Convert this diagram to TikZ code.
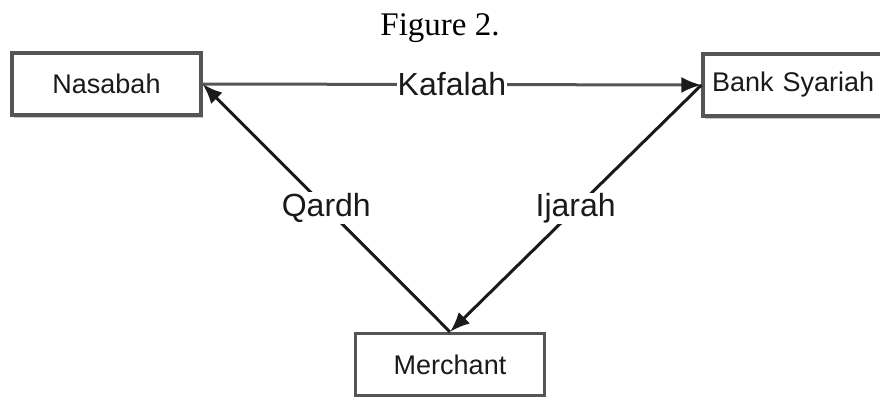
\documentclass[tikz,border=0pt]{standalone}
\usepackage{fontspec}
\newfontfamily\diagsans{Liberation Sans}
\newfontfamily\diagserif{Liberation Serif}
\usetikzlibrary{arrows.meta,shadows}
\definecolor{boxline}{HTML}{555555}
\definecolor{inkdark}{HTML}{1A1A1A}
\begin{document}
\begin{tikzpicture}[x=1pt,y=-1pt,
  party/.style={draw=boxline, line width=3.2pt, fill=white,
    minimum width=189pt, minimum height=62pt, inner sep=0pt,
    text=inkdark, font=\diagsans\fontsize{27}{30}\selectfont,
    drop shadow={shadow xshift=1.5pt, shadow yshift=-2.5pt, fill=gray!60, opacity=0.7}},
  flow/.style={line width=3pt, draw=inkdark,
    -{Latex[length=20pt,width=16pt,color=inkdark]}},
  tag/.style={fill=white, inner sep=1pt, text=inkdark,
    font=\diagsans\fontsize{32}{36}\selectfont}]
  \useasboundingbox (0,0) rectangle (880,396);
  \fill[white] (0,0) rectangle (880,396);

  % title
  \node (title) at (440,28) {\diagserif\fontsize{33}{36}\selectfont Figure 2.};

  % parties
  \node[party] (nas) at (106.5,84) {Nasabah};
  \node[party, minimum width=190pt, text width=172pt, align=left] (bank) at (798,85) {Bank Syariah};
  \node[party] (mer) at (450,364.5) {Merchant};

  % contracts
  \draw[flow, draw=boxline] (nas.east) -- node[tag] (kaf) {Kafalah} (bank.west);
  \draw[flow] (mer.north) -- node[tag] (qar) {Qardh} (nas.east);
  \draw[flow] (bank.west) -- node[tag] (ija) {Ijarah} (mer.north);
\end{tikzpicture}
\end{document}
